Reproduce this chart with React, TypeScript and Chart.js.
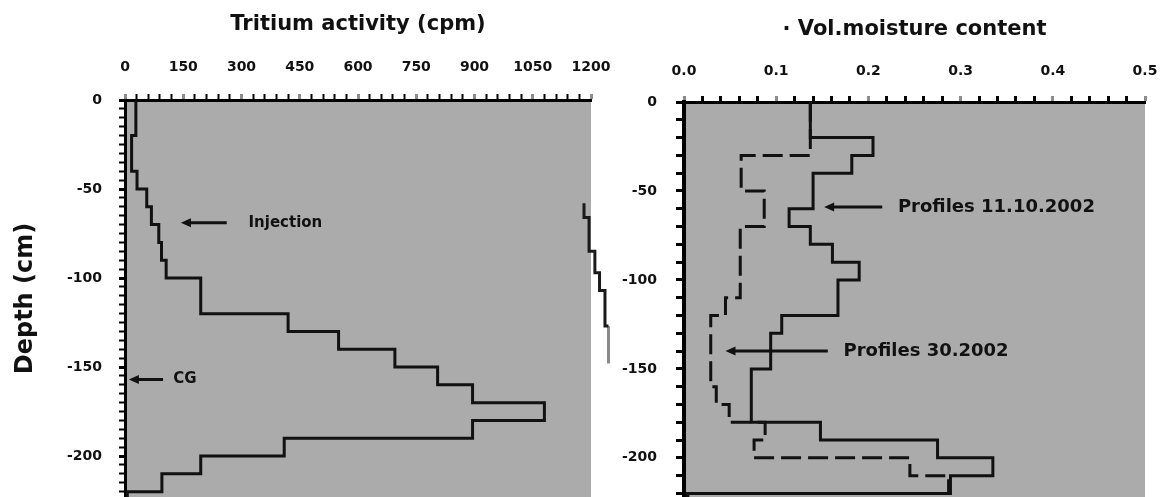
import React, { useEffect, useRef } from 'react';
import { Chart, registerables } from 'chart.js';

Chart.register(...registerables);

const FONT = '"DejaVu Sans", "Liberation Sans", sans-serif';
const PANEL_GREY = '#ababab';
const INK = '#111111';

// ---- Tritium activity profile (cpm) per depth layer (cm) ----
const tritiumDepths = [0, -20, -40, -50, -60, -70, -80, -90, -100, -120, -130, -140, -150, -160, -170, -180, -190, -200, -210, -220, -230];
const tritiumActivity = [28, 17, 31, 56, 68, 87, 94, 106, 195, 420, 550, 695, 805, 895, 1080, 895, 410, 195, 95, 6];

// partial profile visible at the right edge of the tritium panel
const edgeDepths = [-58, -66, -85, -97, -107, -127, -148];
const edgeActivity = [1182, 1195, 1210, 1222, 1236, 1245];

// ---- Volumetric moisture content profiles ----
const octDepths = [0, -20, -30, -40, -60, -70, -80, -90, -100, -120, -130, -150, -180, -190, -200, -210, -220, -230];
const octMoisture = [0.137, 0.205, 0.182, 0.14, 0.114, 0.137, 0.161, 0.19, 0.167, 0.106, 0.094, 0.073, 0.148, 0.275, 0.335, 0.289, 0.004];

const mayDepths = [0, -30, -50, -70, -110, -120, -160, -170, -180, -190, -200, -210, -220, -230];
const mayMoisture = [0.137, 0.062, 0.087, 0.061, 0.045, 0.029, 0.035, 0.049, 0.088, 0.076, 0.245, 0.287, 0.004];

// ---- tick labels ----
const tritiumTickLabels = [0, 150, 300, 450, 600, 750, 900, 1050, 1200];
const moistureTickLabels = ['0.0', '0.1', '0.2', '0.3', '0.4', '0.5'];
const depthTickLabels = [0, -50, -100, -150, -200];

// ---- annotations ----
const tritiumNotes = [
  { text: 'Injection', depth: -69, tip: 144, tail: 262, textAt: 318 },
  { text: 'CG', depth: -157, tip: 10, tail: 98, textAt: 124 },
];
const moistureNotes = [
  { text: 'Profiles 11.10.2002', depth: -59, tip: 0.152, tail: 0.215, textAt: 0.232 },
  { text: 'Profiles 30.2002', depth: -140, tip: 0.045, tail: 0.156, textAt: 0.173 },
];

function stepPoints(depths: number[], values: number[]) {
  const pts: { x: number; y: number }[] = [];
  values.forEach((v, i) => {
    pts.push({ x: v, y: depths[i] });
    pts.push({ x: v, y: depths[i + 1] });
  });
  return pts;
}

function range(start: number, end: number, step: number) {
  const out: number[] = [];
  const n = Math.round((end - start) / step);
  for (let i = 0; i <= n; i++) out.push(Math.round((start + i * step) * 1000) / 1000);
  return out;
}

function noPadding(s: any) {
  s.paddingLeft = 0;
  s.paddingRight = 0;
  s.paddingTop = 0;
  s.paddingBottom = 0;
}

const bgPlugin = {
  id: 'panelBg',
  beforeDraw(chart: any) {
    const { ctx, chartArea: a } = chart;
    ctx.save();
    ctx.fillStyle = PANEL_GREY;
    ctx.fillRect(a.left, a.top, a.right - a.left, a.bottom - a.top);
    ctx.restore();
  },
};

function notesPlugin(notes: any[], fontSize: number) {
  return {
    id: 'notes',
    afterDatasetsDraw(chart: any) {
      const { ctx } = chart;
      const x = chart.scales.x;
      const y = chart.scales.y;
      ctx.save();
      notes.forEach((n) => {
        const py = y.getPixelForValue(n.depth);
        const tip = x.getPixelForValue(n.tip);
        const tail = x.getPixelForValue(n.tail);
        ctx.strokeStyle = INK;
        ctx.lineWidth = 3;
        ctx.beginPath();
        ctx.moveTo(tail, py);
        ctx.lineTo(tip + 6, py);
        ctx.stroke();
        ctx.fillStyle = INK;
        ctx.beginPath();
        ctx.moveTo(tip, py);
        ctx.lineTo(tip + 10, py - 4.5);
        ctx.lineTo(tip + 10, py + 4.5);
        ctx.closePath();
        ctx.fill();
        ctx.font = `bold ${fontSize}px ${FONT}`;
        ctx.textBaseline = 'middle';
        ctx.textAlign = 'left';
        ctx.fillText(n.text, x.getPixelForValue(n.textAt), py);
      });
      ctx.restore();
    },
  };
}

function tickFont(size: number) {
  return { family: FONT, size, weight: 'bold' as const };
}

function leftConfig(): any {
  const titleH = 12 + 25.2;
  const edgePts = stepPoints(edgeDepths, edgeActivity).reverse();
  return {
    type: 'scatter',
    data: {
      datasets: [
        {
          label: 'Tritium activity',
          data: stepPoints(tritiumDepths, tritiumActivity),
          showLine: true,
          borderColor: INK,
          borderWidth: 3,
          pointRadius: 0,
        },
        {
          label: 'edge profile',
          data: edgePts,
          showLine: true,
          borderColor: '#1a1a1a',
          borderWidth: 3,
          pointRadius: 0,
          clip: false,
          segment: {
            borderColor: (c: any) => (Math.min(c.p0.parsed.y, c.p1.parsed.y) < -128 ? '#8a8a8a' : '#1a1a1a'),
          },
        },
      ],
    },
    options: {
      responsive: false,
      animation: false,
      layout: { autoPadding: false, padding: { left: 0, top: 0, right: 620 - 591, bottom: 0 } },
      plugins: {
        legend: { display: false },
        tooltip: { enabled: false },
        title: {
          display: true,
          text: 'Tritium activity (cpm)',
          fullSize: false,
          color: INK,
          font: { family: FONT, size: 21, weight: 'bold' },
          padding: { top: 12, bottom: 0 },
        },
      },
      scales: {
        x: {
          type: 'linear',
          position: 'top',
          min: 0,
          max: 1200,
          afterFit: (s: any) => { s.height = 100 - titleH; noPadding(s); },
          afterBuildTicks: (s: any) => { s.ticks = range(0, 1200, 30).map((value) => ({ value })); },
          ticks: {
            autoSkip: false,
            maxRotation: 0,
            minRotation: 0,
            padding: 18,
            color: INK,
            font: tickFont(14),
            callback: (v: number) => (tritiumTickLabels.includes(v) ? String(v) : ''),
          },
          grid: {
            drawOnChartArea: false,
            tickLength: 6,
            tickColor: (c: any) => (c.tick && tritiumTickLabels.includes(c.tick.value) ? '#8c8c8c' : '#000'),
            tickWidth: (c: any) => (c.tick && tritiumTickLabels.includes(c.tick.value) ? 3 : 2),
          },
          border: { display: true, color: '#000', width: 3 },
        },
        y: {
          type: 'linear',
          min: -223,
          max: 0,
          afterFit: (s: any) => { s.width = 125; noPadding(s); },
          afterBuildTicks: (s: any) => { s.ticks = range(-220, 0, 5).map((value) => ({ value })); },
          title: {
            display: true,
            text: 'Depth (cm)',
            color: INK,
            font: { family: FONT, size: 24, weight: 'bold' },
            padding: { top: 11, bottom: 0 },
          },
          ticks: {
            autoSkip: false,
            padding: 17,
            color: INK,
            font: tickFont(14),
            callback: (v: number) => (depthTickLabels.includes(v) ? String(v) : ''),
          },
          grid: {
            drawOnChartArea: false,
            tickLength: 6,
            tickColor: '#000',
            tickWidth: (c: any) => (c.tick && depthTickLabels.includes(c.tick.value) ? 3 : 2),
          },
          border: { display: true, color: '#000', width: 3 },
        },
      },
    },
    plugins: [bgPlugin, notesPlugin(tritiumNotes, 15)],
  };
}

function rightConfig(): any {
  const titleH = 17 + 25.2;
  const isMajor = (v: number) => Math.abs(v * 10 - Math.round(v * 10)) < 1e-6;
  return {
    type: 'scatter',
    data: {
      datasets: [
        {
          label: 'Profiles 11.10.2002',
          data: stepPoints(octDepths, octMoisture),
          showLine: true,
          borderColor: INK,
          borderWidth: 3,
          pointRadius: 0,
        },
        {
          label: 'Profiles 30.2002',
          data: stepPoints(mayDepths, mayMoisture),
          showLine: true,
          borderColor: INK,
          borderWidth: 3,
          borderDash: [20, 7],
          pointRadius: 0,
        },
      ],
    },
    options: {
      responsive: false,
      animation: false,
      layout: { autoPadding: false, padding: { left: 0, top: 0, right: 578 - 549, bottom: 0 } },
      plugins: {
        legend: { display: false },
        tooltip: { enabled: false },
        title: {
          display: true,
          text: '\u00b7 Vol.moisture content',
          fullSize: false,
          color: INK,
          font: { family: FONT, size: 21, weight: 'bold' },
          padding: { top: 17, bottom: 0 },
        },
      },
      scales: {
        x: {
          type: 'linear',
          position: 'top',
          min: 0,
          max: 0.5,
          afterFit: (s: any) => { s.height = 102 - titleH; noPadding(s); },
          afterBuildTicks: (s: any) => { s.ticks = range(0, 0.5, 0.02).map((value) => ({ value })); },
          ticks: {
            autoSkip: false,
            maxRotation: 0,
            minRotation: 0,
            padding: 16,
            color: INK,
            font: tickFont(14),
            callback: (v: number) => (isMajor(v) ? moistureTickLabels[Math.round(v * 10)] : ''),
          },
          grid: {
            drawOnChartArea: false,
            tickLength: 6,
            tickColor: (c: any) => (c.tick && isMajor(c.tick.value) ? '#8c8c8c' : '#000'),
            tickWidth: 3,
          },
          border: { display: true, color: '#000', width: 3 },
        },
        y: {
          type: 'linear',
          min: -222,
          max: 0,
          afterFit: (s: any) => { s.width = 88; noPadding(s); },
          afterBuildTicks: (s: any) => { s.ticks = range(-220, 0, 10).map((value) => ({ value })); },
          ticks: {
            autoSkip: false,
            padding: 19,
            color: INK,
            font: tickFont(14),
            callback: (v: number) => (depthTickLabels.includes(v) ? String(v) : ''),
          },
          grid: {
            drawOnChartArea: false,
            tickLength: 8,
            tickColor: '#000',
            tickWidth: 3,
          },
          border: { display: true, color: '#000', width: 4 },
        },
      },
    },
    plugins: [bgPlugin, notesPlugin(moistureNotes, 18)],
  };
}

export default function App() {
  const leftRef = useRef<HTMLCanvasElement>(null);
  const rightRef = useRef<HTMLCanvasElement>(null);

  useEffect(() => {
    const c1 = new Chart(leftRef.current as HTMLCanvasElement, leftConfig());
    const c2 = new Chart(rightRef.current as HTMLCanvasElement, rightConfig());
    return () => {
      c1.destroy();
      c2.destroy();
    };
  }, []);

  return (
    <div style={{ position: 'fixed', left: 0, top: 0, width: 1174, height: 497, background: '#fff', overflow: 'hidden' }}>
      <canvas ref={leftRef} width={620} height={497} style={{ position: 'absolute', left: 0, top: 0, width: 620, height: 497 }} />
      <canvas ref={rightRef} width={578} height={497} style={{ position: 'absolute', left: 596, top: 0, width: 578, height: 497 }} />
    </div>
  );
}
